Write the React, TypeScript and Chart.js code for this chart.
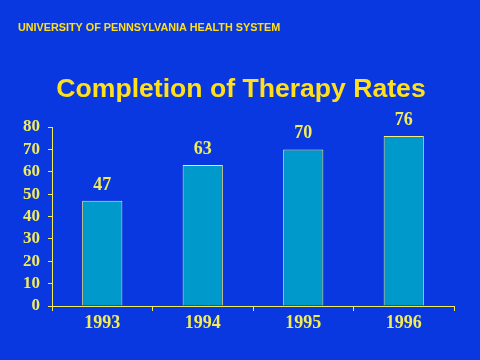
import React, { useEffect, useRef } from "react";
import { Chart, registerables } from "chart.js";

Chart.register(...registerables);

const headerText = "UNIVERSITY OF PENNSYLVANIA HEALTH SYSTEM";
const titleText = "Completion of Therapy Rates";
const years = ["1993", "1994", "1995", "1996"];
const rates = [47, 63, 70, 76];
const yTicks = [0, 10, 20, 30, 40, 50, 60, 70, 80];

const BG = "#0A38E0";
const YELLOW = "#F2EC5A";
const TITLE_YELLOW = "#FFE01A";

export default function App() {
  const ref = useRef<HTMLCanvasElement>(null);
  useEffect(() => {
    if (!ref.current) return;
    const textPlugin = {
      id: "texts",
      afterDraw(chart: any) {
        const ctx = chart.ctx;
        ctx.save();
        ctx.fillStyle = TITLE_YELLOW;
        ctx.textBaseline = "middle";
        ctx.textAlign = "left";
        ctx.font = "bold 10.8px 'Liberation Sans', Arial, sans-serif";
        ctx.fillText(headerText, 18, 28);
        ctx.textAlign = "center";
        ctx.font = "bold 26.6px 'Liberation Sans', Arial, sans-serif";
        ctx.fillText(titleText, 241, 90);
        // value labels
        const meta = chart.getDatasetMeta(0);
        ctx.fillStyle = YELLOW;
        ctx.font = "600 18px 'Liberation Serif', 'Times New Roman', serif";
        ctx.textBaseline = "alphabetic";
        meta.data.forEach((bar: any, i: number) => {
          ctx.fillText(String(rates[i]), bar.x, bar.y - 11);
        });
        ctx.restore();
      },
    };
    const chart = new Chart(ref.current, {
      type: "bar",
      data: {
        labels: years,
        datasets: [
          {
            data: rates,
            backgroundColor: "#0099CC",
            borderColor: "#F5F07A",
            borderWidth: 1,
            barPercentage: 0.4,
            categoryPercentage: 1,
          },
        ],
      },
      options: {
        animation: false,
        responsive: false,
        maintainAspectRatio: false,
        layout: { padding: { top: 127, right: 26, left: 0, bottom: 0 } },
        plugins: { legend: { display: false }, tooltip: { enabled: false }, title: { display: false } },
        scales: {
          x: {
            afterFit(scale: any) {
              scale.height = 54;
            },
            grid: {
              display: true,
              drawOnChartArea: false,
              drawTicks: true,
              tickLength: 5,
              color: YELLOW,
              offset: true,
            },
            border: { display: true, color: YELLOW, width: 1 },
            ticks: {
              color: YELLOW,
              padding: 2,
              autoSkip: false,
              font: { family: "'Liberation Serif', 'Times New Roman', serif", size: 18, weight: "bold" },
            },
          },
          y: {
            min: 0,
            max: 80,
            afterFit(scale: any) {
              scale.width = 52;
            },
            afterBuildTicks(scale: any) {
              scale.ticks = yTicks.map((v) => ({ value: v }));
            },
            grid: {
              display: true,
              drawOnChartArea: false,
              drawTicks: true,
              tickLength: 4,
              color: YELLOW,
            },
            border: { display: true, color: YELLOW, width: 1 },
            ticks: {
              color: YELLOW,
              padding: 8,
              autoSkip: false,
              font: { family: "'Liberation Serif', 'Times New Roman', serif", size: 17, weight: "bold" },
            },
          },
        },
      },
      plugins: [textPlugin],
    } as any);
    return () => chart.destroy();
  }, []);
  return (
    <div style={{ position: "fixed", left: 0, top: 0, width: 480, height: 360, background: BG }}>
      <canvas ref={ref} width={480} height={360} style={{ width: 480, height: 360, display: "block" }} />
    </div>
  );
}
